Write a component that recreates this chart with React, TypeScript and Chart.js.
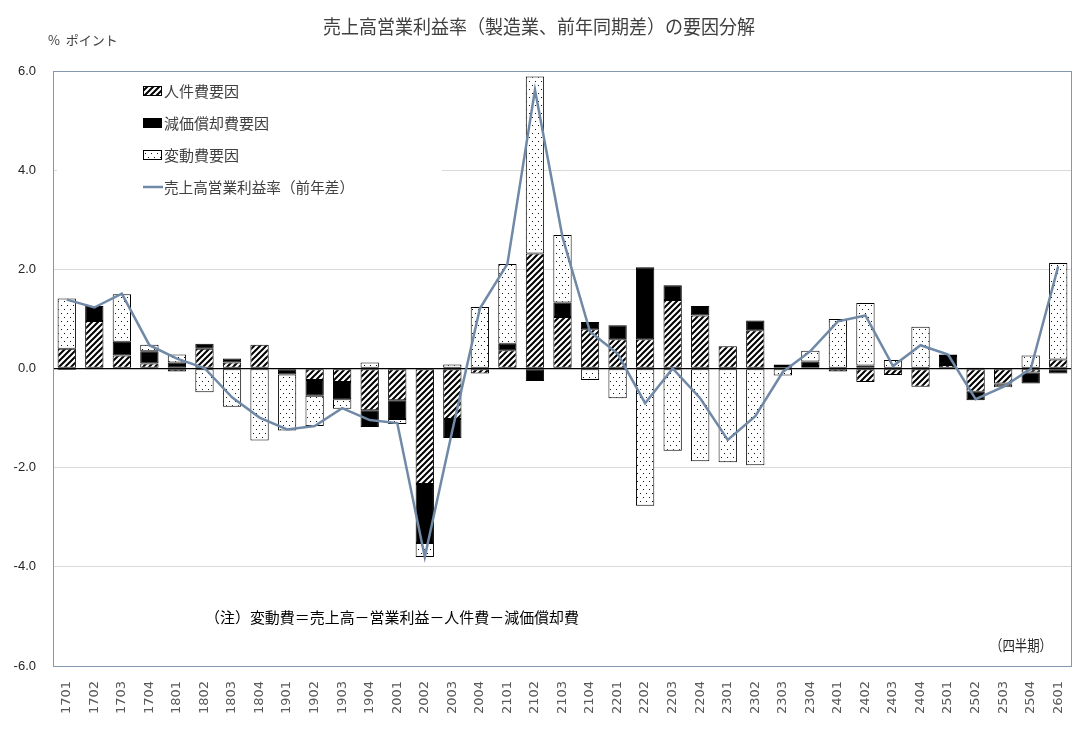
import { useEffect, useRef } from "react";
import { Chart, registerables } from "chart.js";

Chart.register(...registerables);

const quarters = [
  "1701", "1702", "1703", "1704", "1801", "1802", "1803", "1804",
  "1901", "1902", "1903", "1904", "2001", "2002", "2003", "2004",
  "2101", "2102", "2103", "2104", "2201", "2202", "2203", "2204",
  "2301", "2302", "2303", "2304", "2401", "2402", "2403", "2404",
  "2501", "2502", "2503", "2504", "2601",
];

// 人件費要因
const laborCost = [
  0.4, 0.96, 0.26, 0.1, -0.06, 0.4, 0.12, 0.48,
  0.0, -0.23, -0.27, -0.84, -0.64, -2.33, -1.02, -0.1,
  0.37, 2.32, 1.04, 0.79, 0.59, 0.59, 1.38, 1.07,
  0.45, 0.77, 0.05, 0.05, -0.06, -0.27, -0.13, -0.37,
  0.07, -0.47, -0.3, -0.08, 0.18,
];

// 減価償却費要因
const depreciation = [
  -0.03, 0.3, 0.28, 0.25, 0.12, 0.1, 0.08, 0.0,
  -0.12, -0.32, -0.35, -0.34, -0.38, -1.19, -0.38, 0.0,
  0.13, -0.25, 0.29, 0.15, 0.28, 1.45, 0.3, 0.19,
  0.0, 0.2, 0.03, 0.09, 0.0, 0.06, 0.0, 0.0,
  0.18, -0.17, -0.03, -0.22, -0.1,
];

// 変動費要因
const variableCost = [
  1.01, -0.02, 0.96, 0.13, 0.16, -0.48, -0.77, -1.45,
  -1.13, -0.61, -0.19, 0.12, -0.1, -0.28, 0.08, 1.24,
  1.61, 3.57, 1.36, -0.23, -0.6, -2.77, -1.66, -1.87,
  -1.89, -1.95, -0.14, 0.22, 1.0, 1.26, 0.17, 0.84,
  0.03, 0.02, -0.05, 0.26, 1.95,
];

// 売上高営業利益率(前年差)
const marginChange = [
  1.39, 1.23, 1.51, 0.47, 0.2, 0.01, -0.58, -0.99,
  -1.23, -1.16, -0.8, -1.04, -1.1, -3.8, -1.25, 1.21,
  2.11, 5.62, 2.65, 0.74, 0.3, -0.7, 0.0, -0.6,
  -1.44, -0.96, -0.07, 0.35, 0.95, 1.07, 0.05, 0.47,
  0.28, -0.62, -0.37, -0.01, 2.06,
];

const yTicks = [-6, -4, -2, 0, 2, 4, 6];

const LINE_COLOR = "#7089a6";
const JP_FONT = '"Noto Sans CJK JP", "Noto Sans", sans-serif';

function makeHatch(): CanvasPattern | string {
  const c = document.createElement("canvas");
  c.width = 6;
  c.height = 6;
  const g = c.getContext("2d");
  if (!g) return "#fff";
  g.fillStyle = "#fff";
  g.fillRect(0, 0, 6, 6);
  g.strokeStyle = "#000";
  g.lineWidth = 2;
  g.beginPath();
  g.moveTo(-1, 7);
  g.lineTo(7, -1);
  g.moveTo(-4, 4);
  g.lineTo(4, -4);
  g.moveTo(2, 10);
  g.lineTo(10, 2);
  g.stroke();
  return g.createPattern(c, "repeat") || "#fff";
}

function makeDots(): CanvasPattern | string {
  const c = document.createElement("canvas");
  c.width = 6;
  c.height = 8;
  const g = c.getContext("2d");
  if (!g) return "#fff";
  g.fillStyle = "#fff";
  g.fillRect(0, 0, 6, 8);
  g.fillStyle = "#111";
  g.fillRect(1, 1, 1, 1);
  g.fillRect(4, 5, 1, 1);
  return g.createPattern(c, "repeat") || "#fff";
}

function App(): JSX.Element {
  const chartRef = useRef<HTMLCanvasElement | null>(null);
  const chartInstance = useRef<Chart | null>(null);

  useEffect(() => {
    if (!chartRef.current) return;
    const ctx = chartRef.current.getContext("2d");
    if (!ctx) return;

    const hatch = makeHatch();
    const dots = makeDots();

    // legend box, title, notes and plot frame
    const decorations = {
      id: "decorations",
      beforeDatasetsDraw(chart: Chart) {
        const c = chart.ctx;
        c.save();
        c.fillStyle = "#fff";
        c.fillRect(57, 74, 385, 126);
        c.restore();
      },
      afterDraw(chart: Chart) {
        const c = chart.ctx;
        const area = chart.chartArea;
        c.save();
        c.strokeStyle = "#8497b0";
        c.lineWidth = 1;
        c.strokeRect(area.left + 0.5, area.top + 0.5, area.right - area.left - 1, area.bottom - area.top);

        c.textBaseline = "middle";
        c.textAlign = "left";
        c.fillStyle = "#404040";
        c.font = `19px ${JP_FONT}`;
        c.fillText("売上高営業利益率（製造業、前年同期差）の要因分解", 323, 27, 432);

        c.font = `13px ${JP_FONT}`;
        c.fillText("%  ポイント", 48, 40, 78);

        // legend
        const legendX = 143;
        const rows = [
          { y: 91, label: "人件費要因", fill: hatch as any },
          { y: 123, label: "減価償却費要因", fill: "#000" },
          { y: 155, label: "変動費要因", fill: dots as any },
        ];
        c.font = `15px ${JP_FONT}`;
        rows.forEach((r) => {
          c.fillStyle = r.fill;
          c.fillRect(legendX, r.y - 5, 19, 10);
          c.strokeStyle = "#000";
          c.strokeRect(legendX + 0.5, r.y - 4.5, 18, 9);
          c.fillStyle = "#404040";
          c.fillText(r.label, 164, r.y);
        });
        c.strokeStyle = LINE_COLOR;
        c.lineWidth = 2.5;
        c.beginPath();
        c.moveTo(legendX, 187);
        c.lineTo(legendX + 20, 187);
        c.stroke();
        c.fillStyle = "#404040";
        c.fillText("売上高営業利益率（前年差）", 164, 187, 190);

        c.fillStyle = "#000";
        c.font = `15px ${JP_FONT}`;
        c.fillText("（注）変動費＝売上高－営業利益－人件費－減価償却費", 205, 617, 374);
        c.fillStyle = "#262626";
        c.fillText("（四半期）", 990, 645, 62);
        c.restore();
      },
    };

    const barCommon = {
      type: "bar" as const,
      borderColor: "#000",
      borderWidth: 1,
      borderSkipped: false,
      categoryPercentage: 1,
      barPercentage: 0.665,
      order: 1,
    };

    if (chartInstance.current) chartInstance.current.destroy();

    chartInstance.current = new Chart(ctx, {
      type: "bar",
      data: {
        labels: quarters,
        datasets: [
          { ...barCommon, label: "人件費要因", data: laborCost, backgroundColor: hatch as any },
          { ...barCommon, label: "減価償却費要因", data: depreciation, backgroundColor: "#000" },
          { ...barCommon, label: "変動費要因", data: variableCost, backgroundColor: dots as any },
          {
            type: "line",
            label: "売上高営業利益率(前年差)",
            data: marginChange,
            borderColor: LINE_COLOR,
            borderWidth: 2.5,
            pointRadius: 0,
            tension: 0,
            stack: "line",
            order: 0,
          } as any,
        ],
      },
      options: {
        animation: false,
        responsive: false,
        maintainAspectRatio: false,
        layout: { padding: { left: 0, top: 71, right: 20, bottom: 0 } },
        plugins: {
          legend: { display: false },
          tooltip: { enabled: false },
          title: { display: false },
        },
        scales: {
          x: {
            stacked: true,
            grid: { display: false },
            border: { display: false },
            ticks: {
              autoSkip: false,
              minRotation: 90,
              maxRotation: 90,
              padding: 7,
              color: "#595959",
              font: { family: '"DejaVu Sans", sans-serif', size: 13 },
            },
            afterFit(scale: any) {
              scale.height = 63;
            },
          },
          y: {
            stacked: true,
            min: -6,
            max: 6,
            border: { display: false },
            afterBuildTicks(scale: any) {
              scale.ticks = yTicks.map((v) => ({ value: v }));
            },
            grid: {
              drawTicks: false,
              color: (c: any) => (c.tick && c.tick.value === 0 ? "#000" : "#d9d9d9"),
              lineWidth: (c: any) => (c.tick && c.tick.value === 0 ? 1.3 : 1),
            },
            ticks: {
              padding: 17,
              color: "#262626",
              font: { family: '"Liberation Sans Narrow", "Liberation Sans", sans-serif', size: 13 },
              callback: (v: any) => Number(v).toFixed(1),
            },
            afterFit(scale: any) {
              scale.width = 53;
            },
          },
        },
      },
      plugins: [decorations],
    } as any);

    return () => {
      if (chartInstance.current) {
        chartInstance.current.destroy();
        chartInstance.current = null;
      }
    };
  }, []);

  return (
    <div style={{ position: "fixed", left: 0, top: 0, width: 1092, height: 729, background: "#fff" }}>
      <canvas ref={chartRef} width={1092} height={729} style={{ width: 1092, height: 729 }} />
    </div>
  );
}

export default App;
